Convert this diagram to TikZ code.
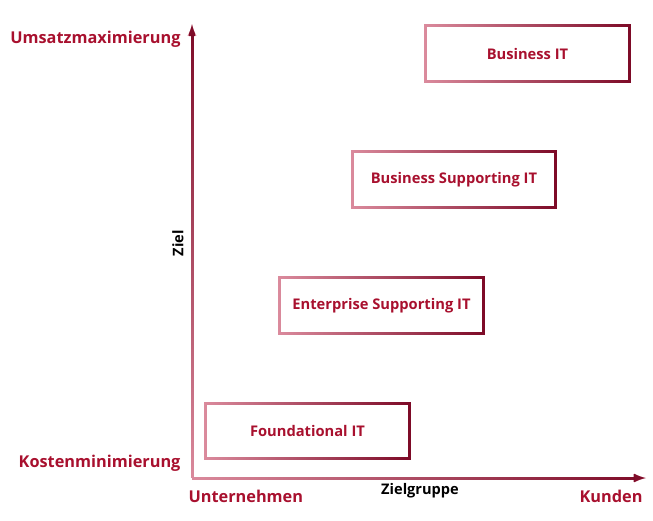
\documentclass[tikz,border=0pt]{standalone}
\usepackage{fontspec}
\setmainfont{Open Sans}
\usetikzlibrary{fadings}
\definecolor{kred}{HTML}{A8102E}
\definecolor{kdark}{HTML}{7D0A27}
\definecolor{klight}{HTML}{DB8B9D}

\begin{document}
\begin{tikzpicture}[x=1pt, y=-1pt, >=latex,
    every node/.style={font=\bfseries, text=kred},
    box/.style={minimum width=203pt, minimum height=55pt, inner sep=0pt, font=\bfseries\fontsize{14.7}{17}\selectfont},
    big/.style={font=\bfseries\fontsize{16.3}{19}\selectfont},
    axis label/.style={text=black, font=\bfseries\fontsize{14.6}{17}\selectfont},
    rim/.style={line width=3pt}]
    \useasboundingbox (0,0) rectangle (653,520);

    % axes
    \coordinate (O) at (192,478);
    \coordinate (Y) at (192,24);
    \coordinate (X) at (646,478);
    \draw[rim, klight, ->] (O) -- (Y);
    \draw[rim, kdark, ->, path fading=south] (O) -- (Y);
    \draw[rim, klight, ->] (O) -- (X);
    \draw[rim, kdark, ->, path fading=west] (O) -- (X);

    % boxes
    \node[box] (bit) at (527.5,53.5) {Business IT};
    \node[box] (bsit) at (454,179.5) {Business Supporting IT};
    \node[box] (esit) at (381.5,305.5) {Enterprise Supporting IT};
    \node[box] (fit) at (307.5,431) {Foundational IT};
    \foreach \b in {bit,bsit,esit,fit} {
        \draw[rim, klight] (\b.south west) rectangle (\b.north east);
        \draw[rim, kdark, path fading=west] (\b.south west) rectangle (\b.north east);
    }

    % labels
    \node[big, anchor=east] (max) at (184,39) {Umsatzmaximierung};
    \node[big, anchor=east] (min) at (184,463) {Kostenminimierung};
    \node[big, anchor=west] (unt) at (185,496) {Unternehmen};
    \node[big, anchor=east] (kun) at (646,496) {Kunden};
    \node[axis label] (zg) at (420,491) {Zielgruppe};
    \node[axis label, rotate=90] (zl) at (178,243) {Ziel};
\end{tikzpicture}
\end{document}
